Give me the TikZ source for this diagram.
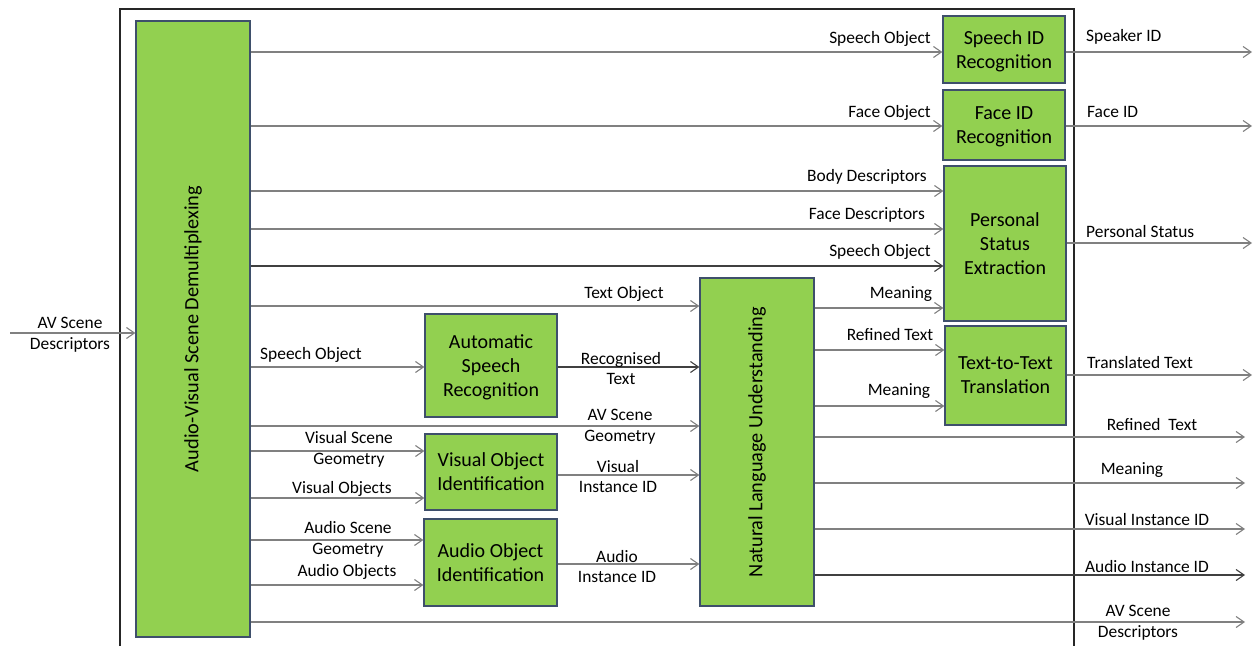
\documentclass[tikz,border=0pt]{standalone}
\usepackage{fontspec}
\setmainfont{Carlito}
\usetikzlibrary{arrows.meta,calc}
\definecolor{boxgreen}{HTML}{92D050}
\definecolor{boxedge}{HTML}{3E4F6B}
\definecolor{wire}{HTML}{808080}
\definecolor{wiredark}{HTML}{404040}
\definecolor{framec}{HTML}{262626}

\begin{document}
\begin{tikzpicture}[x=1pt,y=-1pt,
  blk/.style={draw=boxedge, line width=1.2pt, fill=boxgreen, inner sep=0pt,
    align=center, text depth=0pt, font=\fontsize{20}{24}\selectfont},
  blktext/.style={inner sep=0pt, align=center, font=\fontsize{20.3}{24}\selectfont},
  lbl/.style={inner sep=0pt, align=center, yshift=-1.5pt, font=\fontsize{17.4}{20.8}\selectfont},
  arr/.style={draw=wire, line width=1.3pt,
    -{Straight Barb[length=8pt,width=11pt,line width=1.1pt]}},
  arrd/.style={arr, draw=wiredark},
]
\useasboundingbox (0,0) rectangle (1258,646);

% outer system frame (open at the bottom)
\draw[framec, line width=1.6pt] (120,646) -- (120,9) -- (1074,9) -- (1074,646);

% processing blocks
\node[blk, minimum width=114, minimum height=616] (demux) at (193,329) {};
\node[blktext, rotate=90] (demuxtxt) at (demux.center) {Audio-Visual Scene Demultiplexing};
\node[blk, minimum width=114, minimum height=328] (nlu) at (757,442) {};
\node[blktext, rotate=90] (nlutxt) at (nlu.center) {Natural Language Understanding};

\node[blk, minimum width=122, minimum height=67] (sid) at (1004,49.5) {Speech ID\\Recognition};
\node[blk, minimum width=122, minimum height=70] (fid) at (1004,125) {Face ID\\Recognition};
\node[blk, minimum width=122, minimum height=155] (pse) at (1005,243.5) {Personal\\Status\\Extraction};
\node[blk, minimum width=121, minimum height=99] (ttt) at (1005.5,375.5) {Text-to-Text\\Translation};
\node[blk, minimum width=132, minimum height=103] (asr) at (491,365.5) {Automatic\\Speech\\Recognition};
\node[blk, minimum width=132, minimum height=76] (voi) at (491,472) {Visual Object\\Identification};
\node[blk, minimum width=133, minimum height=87] (aoi) at (490.5,562.5) {Audio Object\\Identification};

% free ends of the external connectors
\coordinate (avin) at (10,333);
\coordinate (oSID) at (1252,52);
\coordinate (oFID) at (1252,126);
\coordinate (oPSE) at (1252,243);
\coordinate (oTTT) at (1252,375);
\coordinate (oRT) at (1245,437);
\coordinate (oMN) at (1245,483);
\coordinate (oVI) at (1245,529);
\coordinate (oAI) at (1245,575);
\coordinate (oAVS) at (1245,622);

% input
\draw[arr] (avin) -- (demux.west |- avin);
\node[lbl] (lin) at (70,333) {AV Scene\\Descriptors};

% demultiplexer outputs
\draw[arr] (demux.east |- 0,52) -- (sid.west |- 0,52);
\draw[arr] (demux.east |- 0,126) -- (fid.west |- 0,126);
\draw[arr] (demux.east |- 0,191) -- (pse.west |- 0,191);
\draw[arr] (demux.east |- 0,229) -- (pse.west |- 0,229);
\draw[arrd] (demux.east |- 0,266) -- (pse.west |- 0,266);
\draw[arr] (demux.east |- 0,306) -- (nlu.west |- 0,306);
\draw[arr] (demux.east |- 0,367) -- (asr.west |- 0,367);
\draw[arr] (demux.east |- 0,426) -- (nlu.west |- 0,426);
\draw[arr] (demux.east |- 0,451) -- (voi.west |- 0,451);
\draw[arr] (demux.east |- 0,498) -- (voi.west |- 0,498);
\draw[arr] (demux.east |- 0,540) -- (aoi.west |- 0,540);
\draw[arr] (demux.east |- 0,585) -- (aoi.west |- 0,585);
\draw[arr] (demux.east |- oAVS) -- (oAVS);

% inner connections
\draw[arrd] (asr.east |- 0,367) -- (nlu.west |- 0,367);
\draw[arr] (voi.east |- 0,475) -- (nlu.west |- 0,475);
\draw[arr] (aoi.east |- 0,564) -- (nlu.west |- 0,564);
\draw[arr] (nlu.east |- 0,308) -- (pse.west |- 0,308);
\draw[arr] (nlu.east |- 0,350) -- (ttt.west |- 0,350);
\draw[arr] (nlu.east |- 0,406) -- (ttt.west |- 0,406);

% system outputs
\draw[arr] (sid.east |- oSID) -- (oSID);
\draw[arr] (fid.east |- oFID) -- (oFID);
\draw[arr] (pse.east |- oPSE) -- (oPSE);
\draw[arr] (ttt.east |- oTTT) -- (oTTT);
\draw[arr] (nlu.east |- oRT) -- (oRT);
\draw[arr] (nlu.east |- oMN) -- (oMN);
\draw[arr] (nlu.east |- oVI) -- (oVI);
\draw[arrd] (nlu.east |- oAI) -- (oAI);

% connector labels
\node[lbl, anchor=east] (l1) at (931,37) {Speech Object};
\node[lbl, anchor=east] (l2) at (931,111) {Face Object};
\node[lbl, anchor=east] (l3) at (927,175) {Body Descriptors};
\node[lbl, anchor=east] (l4) at (925,213) {Face Descriptors};
\node[lbl, anchor=east] (l5) at (931,250) {Speech Object};
\node[lbl] (l6) at (624,292) {Text Object};
\node[lbl] (l7) at (901,293) {Meaning};
\node[lbl] (l8) at (890,333) {Refined Text};
\node[lbl] (l9) at (899,390) {Meaning};
\node[lbl] (l10) at (311,353) {Speech Object};
\node[lbl] (l11) at (621,367) {Recognised\\Text};
\node[lbl] (l12) at (620,425) {AV Scene\\Geometry};
\node[lbl] (l13) at (349,448) {Visual Scene\\Geometry};
\node[lbl] (l14) at (342,487) {Visual Objects};
\node[lbl] (l15) at (618,475) {Visual\\Instance ID};
\node[lbl] (l16) at (348,538) {Audio Scene\\Geometry};
\node[lbl] (l17) at (347,570) {Audio Objects};
\node[lbl] (l18) at (617,565) {Audio\\Instance ID};

\node[lbl, anchor=west] (o1) at (1086,35) {Speaker ID};
\node[lbl, anchor=west] (o2) at (1087,110) {Face ID};
\node[lbl, anchor=west] (o3) at (1086,230) {Personal Status};
\node[lbl, anchor=west] (o4) at (1087,361) {Translated Text};
\node[lbl] (o5) at (1152,423) {Refined\ \ Text};
\node[lbl] (o6) at (1132,469) {Meaning};
\node[lbl] (o7) at (1147,518) {Visual Instance ID};
\node[lbl] (o8) at (1147,565) {Audio Instance ID};
\node[lbl] (o9) at (1138,621) {AV Scene\\Descriptors};
\end{tikzpicture}
\end{document}
